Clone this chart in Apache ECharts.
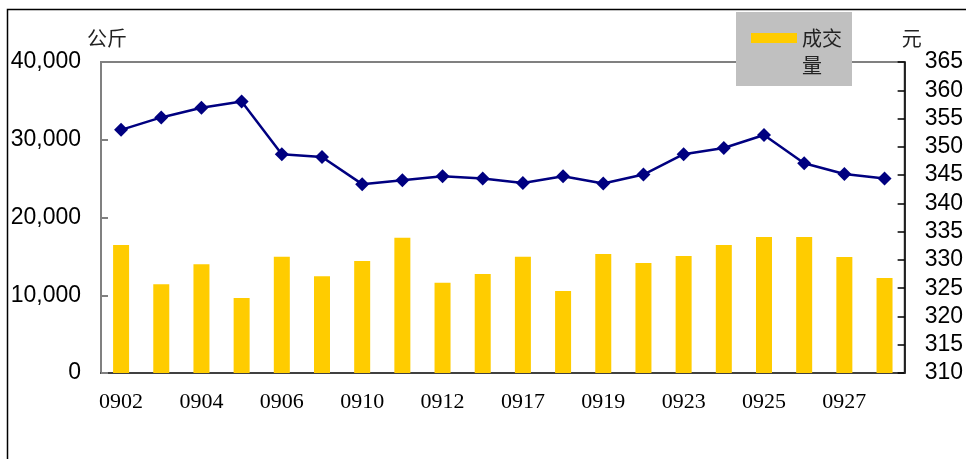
<!DOCTYPE html>
<html><head><meta charset="utf-8">
<script src="https://cdn.jsdelivr.net/npm/echarts@6/dist/echarts.min.js"></script>
<style>html,body{margin:0;padding:0;background:#fff}#c{width:966px;height:459px}</style>
</head><body><div id="c"></div>
<script>
const categories = ['0902','0903','0904','0905','0906','0909','0910','0911','0912','0916','0917','0918','0919','0922','0923','0924','0925','0926','0927','0928'];
const volume = [16450, 11400, 14000, 9650, 14950, 12450, 14420, 17380, 11600, 12730, 14960, 10540, 15300, 14140, 15040, 16460, 17500, 17480, 14920, 12220];
const price = [353.0, 355.2, 356.9, 358.0, 348.7, 348.2, 343.4, 344.1, 344.8, 344.4, 343.6, 344.8, 343.5, 345.1, 348.7, 349.8, 352.1, 347.1, 345.2, 344.4];
const leftTicks = { min: 0, max: 40000, interval: 10000 };
const rightTicks = { min: 310, max: 365, interval: 5 };

const chart = echarts.init(document.getElementById('c'), null, { renderer: 'canvas' });
const cjk = '"Noto Sans CJK SC", sans-serif';
chart.setOption({
  animation: false,
  backgroundColor: '#fff',
  graphic: [{
    type: 'rect', left: 5, top: 7, silent: true,
    shape: { width: 1000, height: 500 },
    style: { fill: 'none', stroke: '#000', lineWidth: 1.5 }
  }, {
    type: 'rect', left: 736, top: 12, silent: true, z: 3,
    shape: { width: 116, height: 74 },
    style: { fill: '#C0C0C0' }
  }],
  grid: { left: 101, right: 61, top: 62, bottom: 86, show: true, borderColor: '#808080', borderWidth: 2, backgroundColor: 'transparent' },
  legend: {
    data: ['成交量'],
    left: 751, top: -2.5,
    padding: 0,
    icon: 'rect', itemWidth: 46, itemHeight: 10, itemGap: 5,
    formatter: () => '\n成交\n量',
    textStyle: { fontFamily: cjk, fontSize: 20, color: '#222', lineHeight: 27 }
  },
  xAxis: {
    type: 'category', data: categories,
    axisLine: { lineStyle: { color: '#404040', width: 2 } },
    axisTick: { show: false },
    axisLabel: { interval: 1, margin: 18, fontFamily: '"Liberation Serif", serif', fontSize: 22, color: '#000' }
  },
  yAxis: [{
    type: 'value', ...leftTicks, position: 'left',
    name: '公斤', nameLocation: 'end', nameGap: 14,
    nameTextStyle: { fontFamily: cjk, fontSize: 20, color: '#222', padding: [0, 0, 0, 12] },
    axisLine: { show: true, lineStyle: { color: '#808080', width: 2 } },
    axisTick: { show: true, inside: true, length: 7, lineStyle: { color: '#808080', width: 2 } },
    splitLine: { show: false },
    axisLabel: { margin: 20, fontFamily: '"Liberation Sans", Arial, sans-serif', fontSize: 23, color: '#000',
      formatter: v => v.toLocaleString('en-US') }
  }, {
    type: 'value', ...rightTicks, position: 'right',
    name: '元', nameLocation: 'end', nameGap: 14,
    nameTextStyle: { fontFamily: cjk, fontSize: 20, color: '#222', padding: [0, 0, 0, 14] },
    axisLine: { show: true, lineStyle: { color: '#000', width: 1.5 } },
    axisTick: { show: true, inside: true, length: 7, lineStyle: { color: '#000', width: 1.5 } },
    splitLine: { show: false },
    axisLabel: { margin: 20, fontFamily: '"Liberation Sans", Arial, sans-serif', fontSize: 23, color: '#000' }
  }],
  series: [{
    name: '成交量', type: 'bar', data: volume, yAxisIndex: 0,
    barWidth: 16, itemStyle: { color: '#FFCC00' }
  }, {
    name: '价格', type: 'line', data: price, yAxisIndex: 1,
    symbol: 'diamond', symbolSize: 14,
    lineStyle: { color: '#000080', width: 2.5 },
    itemStyle: { color: '#000080' }
  }]
});
</script></body></html>
